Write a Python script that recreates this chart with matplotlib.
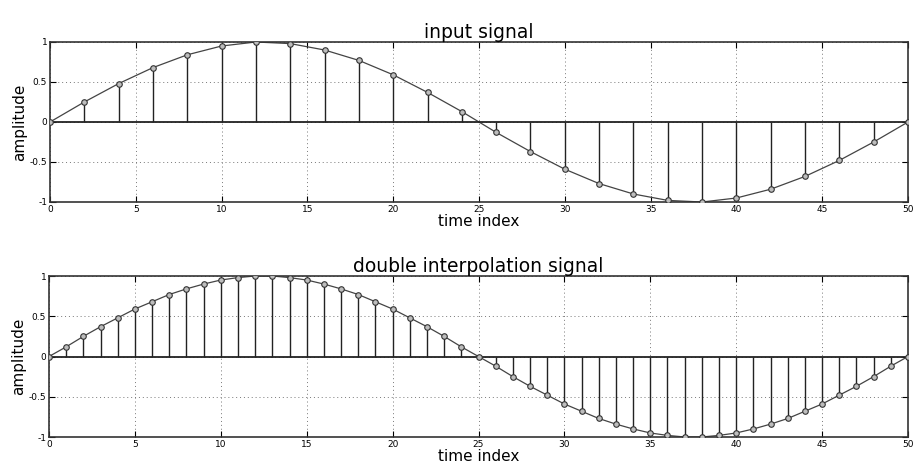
import numpy as np
import matplotlib
matplotlib.use("Agg")
import matplotlib.pyplot as plt

# input signal, every second sample
n_in = list(range(0, 51, 2))
y_in = [0.0, 0.25, 0.48, 0.68, 0.84, 0.95, 1.0, 0.98, 0.90, 0.77, 0.59, 0.37, 0.13,
        -0.13, -0.37, -0.59, -0.77, -0.90, -0.98, -1.0, -0.95, -0.84, -0.68, -0.48, -0.25, 0.0]

# double interpolation signal, every sample
n_out = list(range(0, 51))
y_out = [0.0, 0.12, 0.25, 0.37, 0.48, 0.59, 0.68, 0.77, 0.84, 0.90, 0.95, 0.98, 1.0,
         1.0, 0.98, 0.95, 0.90, 0.84, 0.77, 0.68, 0.59, 0.48, 0.37, 0.25, 0.12,
         0.0, -0.12, -0.25, -0.37, -0.48, -0.59, -0.68, -0.77, -0.84, -0.90, -0.95, -0.98,
         -1.0, -1.0, -0.98, -0.95, -0.90, -0.84, -0.77, -0.68, -0.59, -0.48, -0.37, -0.25,
         -0.12, 0.0]

xticks = [0, 5, 10, 15, 20, 25, 30, 35, 40, 45, 50]
yticks = [-1, -0.5, 0, 0.5, 1]
ytick_labels = ["-1", "-0.5", "0", "0.5", "1"]

W, H = 916, 473
fig = plt.figure(figsize=(W / 100, H / 100), dpi=100)


def draw(ax, x, y, title):
    ax.plot(x, y, color="#444444", lw=0.9, zorder=2)
    ml, sl, bl = ax.stem(x, y, linefmt="k-", markerfmt="o", basefmt="k-")
    plt.setp(sl, lw=1.0, color="#222222")
    plt.setp(bl, lw=1.3, color="#222222")
    plt.setp(ml, markersize=4, markerfacecolor="#bdbdbd", markeredgecolor="#333333",
             markeredgewidth=0.8, zorder=3)
    ax.set_xlim(0, 50)
    ax.set_ylim(-1, 1)
    ax.set_xticks(xticks)
    ax.set_yticks(yticks)
    ax.set_yticklabels(ytick_labels)
    ax.grid(True, linestyle=(0, (1, 3)), color="#777777", lw=0.7)
    ax.tick_params(direction="in", length=4, labelsize=6.5, top=True, right=True, pad=2)
    for s in ax.spines.values():
        s.set_linewidth(1.2)
        s.set_color("#333333")
    ax.set_title(title, fontsize=13.5, pad=3)
    ax.set_xlabel("time index", fontsize=11, labelpad=0)
    ax.set_ylabel("amplitude", fontsize=11, labelpad=2)


ax1 = fig.add_axes([50 / W, 1 - 202 / H, 858 / W, 160 / H])
draw(ax1, n_in, y_in, "input signal")

ax2 = fig.add_axes([49 / W, 1 - 437 / H, 859 / W, 161 / H])
draw(ax2, n_out, y_out, "double interpolation signal")

fig.savefig("out.png", dpi=100)
